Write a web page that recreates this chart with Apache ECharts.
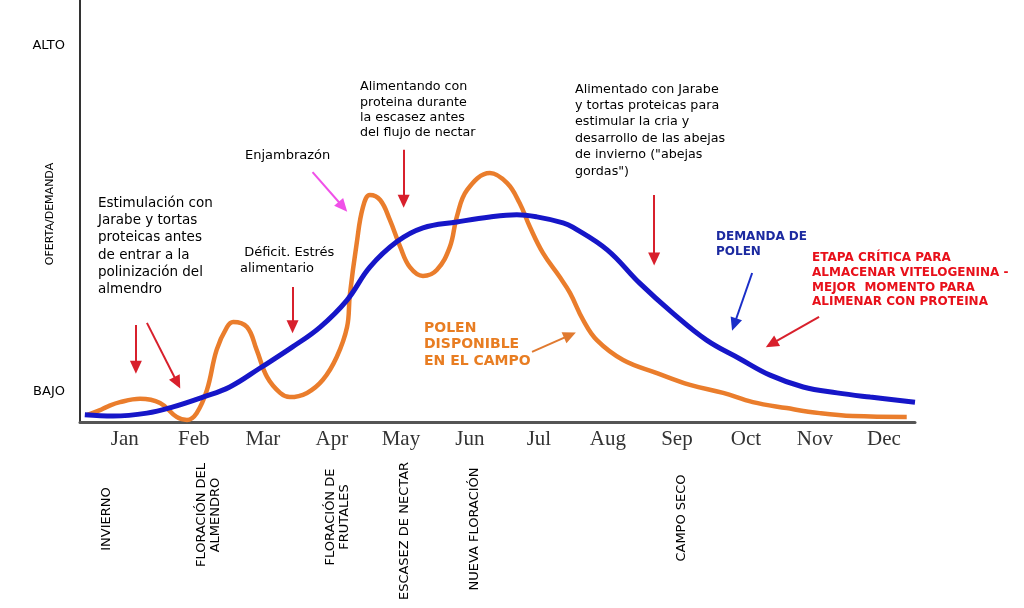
<!DOCTYPE html>
<html>
<head>
<meta charset="utf-8">
<script src="https://cdn.jsdelivr.net/npm/echarts@6/dist/echarts.min.js"></script>
<style>html,body{margin:0;padding:0;background:#fff}#c{width:1024px;height:608px}</style>
</head>
<body>
<div id="c"></div>
<script>
// ---- data (x in months, Jan = 0; y = level 0..100) ----
const months = ['Jan','Feb','Mar','Apr','May','Jun','Jul','Aug','Sep','Oct','Nov','Dec'];
const monthPos = [0,1,2,3,4,5,6,7,8,9,10,11];
const levelTicks = [7.1, 89.1];
const levelLabels = ['BAJO', 'ALTO'];

const pollenX = [-0.54,-0.36,-0.26,-0.07,0.22,0.51,0.75,0.90,1.04,1.19,1.33,1.48,1.57,1.77,1.91,2.06,2.25,2.39,2.64,2.87,3.07,3.22,3.26,3.36,3.45,3.55,3.70,3.84,3.99,4.13,4.32,4.52,4.71,4.81,4.96,5.29,5.54,5.72,5.87,6.06,6.30,6.45,6.64,6.84,7.22,7.71,8.19,8.67,9.10,9.59,10.07,10.55,11.33];
const pollenY = [1.7,2.8,3.6,4.7,5.5,4.5,1.2,0.5,2.1,7.6,17.1,22.5,23.7,22.5,17.1,10.7,6.9,5.9,6.9,10.0,15.4,22.5,30.1,42.4,50.9,53.8,52.6,47.9,41.5,36.7,34.6,36.0,41.5,48.6,55.0,59.0,56.6,51.9,46.2,40.0,34.4,30.6,24.2,19.4,14.7,11.6,8.8,6.9,4.7,3.3,2.1,1.4,1.2];

const demandX = [-0.58,-0.17,0.32,0.70,1.13,1.52,1.96,2.43,2.83,3.22,3.55,3.94,4.32,4.81,5.29,5.68,5.97,6.35,6.49,6.99,7.46,7.94,8.43,8.91,9.35,9.83,10.32,10.80,11.45];
const demandY = [1.7,1.4,2.1,3.6,5.9,8.3,12.8,17.8,22.5,28.9,36.7,42.7,46.0,47.4,48.6,49.1,48.6,47.2,46.2,40.8,32.9,25.8,19.4,15.0,11.1,8.3,6.9,5.9,4.7];

// arrows: [x0, y0, x1, y1, colour]
const arrows = [
  [0.16, 23.0, 0.16, 13.0, '#d8202c'],
  [0.32, 23.5, 0.76, 9.3, '#d8202c'],
  [2.72, 59.2, 3.16, 51.0, '#f050e8'],
  [2.43, 32.0, 2.43, 22.6, '#d8202c'],
  [4.04, 64.5, 4.04, 52.3, '#d8202c'],
  [7.67, 53.8, 7.67, 38.6, '#d8202c'],
  [9.09, 35.3, 8.83, 23.1, '#1a2ec8'],
  [10.06, 24.9, 9.37, 18.5, '#d8202c'],
  [5.90, 16.6, 6.45, 20.6, '#e07a30']
];

const FONT = 'DejaVu Sans';
const chart = echarts.init(document.getElementById('c'));

const zip = (xs, ys) => xs.map((x, i) => [x, ys[i]]);

const graphics = [
  {t:'Estimulación con\nJarabe y tortas\nproteicas antes\nde entrar a la\npolinización del\nalmendro', x:98, y:194.5, f:'13.5px '+FONT, c:'#000', lh:17.3},
  {t:'Enjambrazón', x:245, y:148, f:'13px '+FONT, c:'#000', lh:16},
  {t:' Déficit. Estrés\nalimentario', x:240, y:245, f:'13px '+FONT, c:'#000', lh:16},
  {t:'Alimentando con\nproteina durante\nla escasez antes\ndel flujo de nectar', x:360, y:79.5, f:'12.7px '+FONT, c:'#000', lh:15.3},
  {t:'Alimentado con Jarabe\ny tortas proteicas para\nestimular la cria y\ndesarrollo de las abejas\nde invierno ("abejas\ngordas")', x:575, y:81, f:'12.7px '+FONT, c:'#000', lh:16.4},
  {t:'DEMANDA DE\nPOLEN', x:716, y:229.5, f:'bold 12px '+FONT, c:'#1c2aa0', lh:15},
  {t:'ETAPA CRÍTICA PARA\nALMACENAR VITELOGENINA -\nMEJOR  MOMENTO PARA\nALIMENAR CON PROTEINA', x:812, y:250.7, f:'bold 12px '+FONT, c:'#e8101a', lh:14.7},
  {t:'POLEN\nDISPONIBLE\nEN EL CAMPO', x:424, y:319.6, f:'bold 14px '+FONT, c:'#e87d22', lh:16.8}
].map(a => ({
  type:'text', x:a.x, y:a.y, silent:true,
  style:{text:a.t, font:a.f, fill:a.c, lineHeight:a.lh, align:'left', verticalAlign:'top'}
}));

const vtexts = [
  {t:'OFERTA/DEMANDA', x:50, y:214, f:'11px '+FONT},
  {t:'INVIERNO', x:107, y:519},
  {t:'FLORACIÓN DEL\nALMENDRO', x:209, y:515},
  {t:'FLORACIÓN DE\nFRUTALES', x:338, y:517},
  {t:'ESCASEZ DE NECTAR', x:405, y:531},
  {t:'NUEVA FLORACIÓN', x:475, y:529},
  {t:'CAMPO SECO', x:682, y:518}
].map(a => ({
  type:'text', x:a.x, y:a.y, rotation:Math.PI/2, silent:true,
  style:{text:a.t, font:a.f || ('13px '+FONT), fill:'#000', lineHeight:14, align:'center', verticalAlign:'middle'}
}));

chart.setOption({
  animation:false,
  backgroundColor:'#fff',
  grid:{left:80, right:109, top:0, bottom:186, containLabel:false},
  xAxis:{
    type:'value', min:-0.65, max:11.45,
    axisLine:{show:true, onZero:false, lineStyle:{color:'#555', width:3}},
    axisTick:{show:false},
    splitLine:{show:false},
    axisLabel:{
      customValues: monthPos,
      formatter: v => months[Math.round(v)],
      fontFamily:'Liberation Serif', fontSize:21, color:'#333', margin:7
    }
  },
  yAxis:{
    type:'value', min:0, max:100,
    axisLine:{show:true, onZero:false, lineStyle:{color:'#333', width:2}},
    axisTick:{show:false},
    splitLine:{show:false},
    axisLabel:{
      customValues: levelTicks,
      formatter: v => levelLabels[levelTicks.indexOf(v)] || (v < 50 ? 'BAJO' : 'ALTO'),
      fontFamily:FONT, fontSize:13, color:'#000', margin:15
    }
  },
  series:[
    {
      name:'Polen disponible', type:'line', data:zip(pollenX, pollenY),
      smooth:0.4, showSymbol:false, z:3,
      lineStyle:{color:'#ea7d2c', width:4.5}
    },
    {
      name:'Demanda de polen', type:'line', data:zip(demandX, demandY),
      smooth:0.4, showSymbol:false, z:4,
      lineStyle:{color:'#1616c8', width:5}
    },
    {
      name:'arrows', type:'line', data:[], z:5,
      markLine:{
        silent:true, animation:false,
        symbol:['none','triangle'], symbolSize:[12,13],
        label:{show:false},
        data: arrows.map(a => [
          {coord:[a[0], a[1]], lineStyle:{color:a[4], width:2, type:'solid'}},
          {coord:[a[2], a[3]]}
        ])
      }
    }
  ],
  graphic: graphics.concat(vtexts)
});
</script>
</body>
</html>
